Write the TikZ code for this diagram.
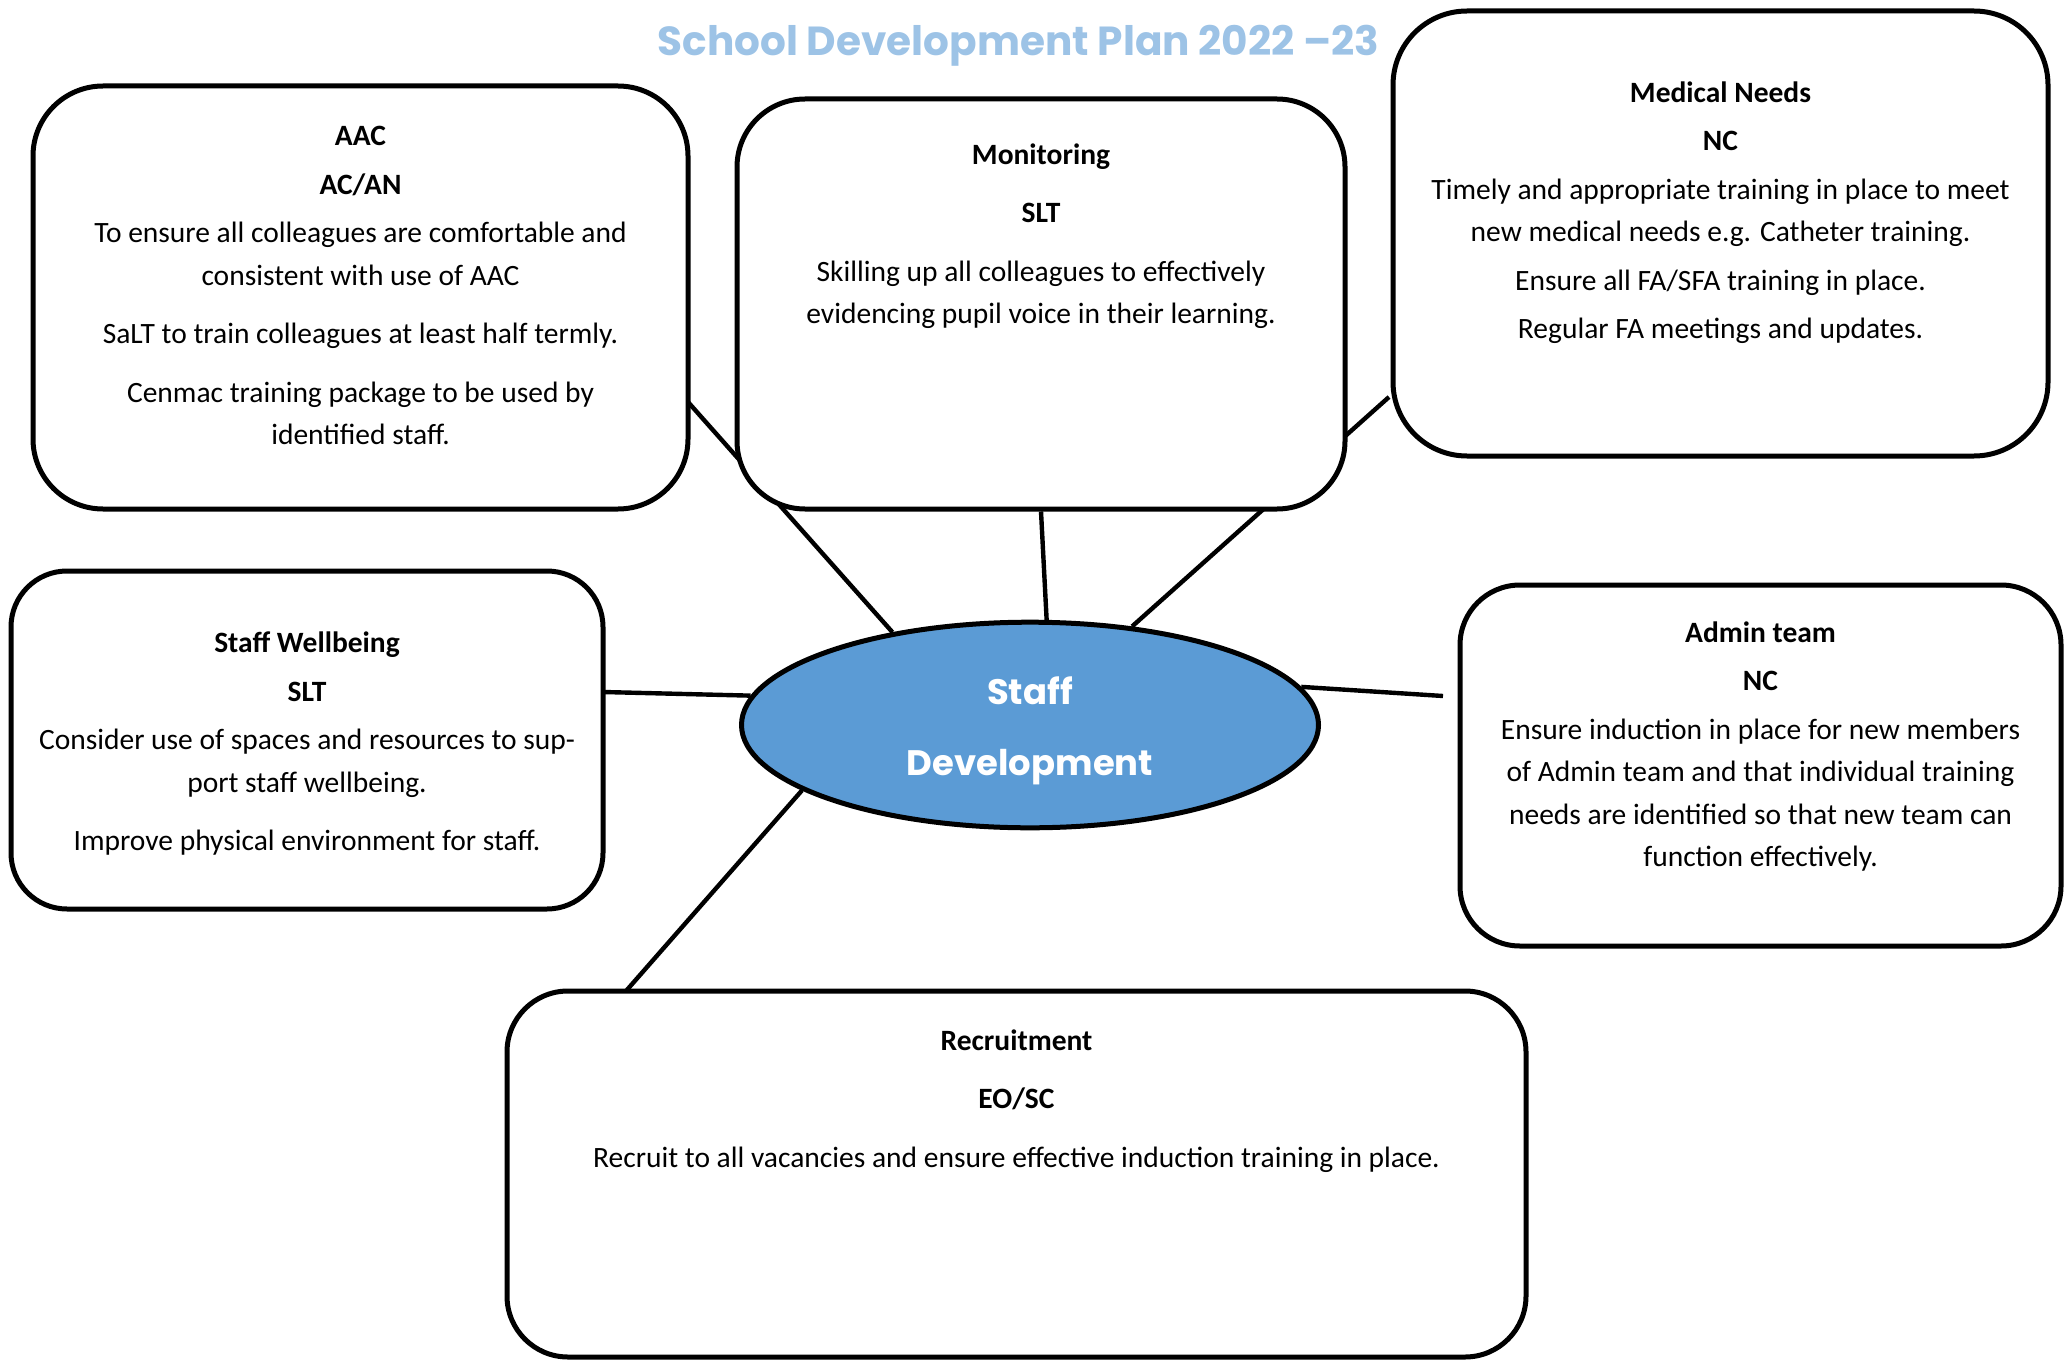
\documentclass[tikz,border=0pt]{standalone}
\usepackage{fontspec}
\setmainfont{Carlito}
\newfontfamily\headfont{Poppins}
\usetikzlibrary{shapes.geometric,backgrounds}
\definecolor{titleblue}{RGB}{157,195,230}
\definecolor{hubblue}{RGB}{91,155,213}

% small and large gaps between lines of a panel
\newcommand\hgap{\\[3pt]}
\newcommand\pgap{\\[8pt]}

\begin{document}
\begin{tikzpicture}[x=0.5pt,y=-0.5pt,
  panel/.style={rectangle, draw=black, line width=2.5pt, fill=white, inner sep=0pt},
  conn/.style={draw=black, line width=2.2pt},
  body/.style={anchor=north, align=center, inner sep=0pt,
    font=\fontsize{14.75}{21.25}\selectfont},
  hub/.style={ellipse, draw=black, line width=2.5pt, fill=hubblue, inner sep=0pt,
    minimum width=288.5pt, minimum height=102.8pt},
  hubtext/.style={anchor=base, text=white, inner sep=0pt,
    font=\headfont\bfseries\fontsize{17.7}{21}\selectfont},
]
\useasboundingbox (0,0) rectangle (2066,1364);

% title
\node[anchor=base, inner sep=0pt, text=titleblue,
  font=\headfont\bfseries\fontsize{20.3}{24}\selectfont] (title) at (1018.5,56)
  {School Development Plan 2022 –23};

% panels
\node[panel, rounded corners=35pt, minimum width=327.5pt, minimum height=211.5pt] (aac) at (360.5,297.5) {};
\node[panel, rounded corners=34pt, minimum width=304pt, minimum height=205pt] (mon) at (1041,304) {};
\node[panel, rounded corners=37pt, minimum width=327.5pt, minimum height=222.5pt] (med) at (1720.5,233.5) {};
\node[panel, rounded corners=28pt, minimum width=296pt, minimum height=169pt] (well) at (307,740) {};
\node[panel, rounded corners=30pt, minimum width=300.5pt, minimum height=180.5pt] (admin) at (1760.5,765.5) {};
\node[panel, rounded corners=30.5pt, minimum width=509.5pt, minimum height=183pt] (recr) at (1016.5,1174) {};

% central ellipse
\node[hub] (hub) at (1030,725) {};
\node[hubtext] (hubA) at (1030,704) {Staff};
\node[hubtext] (hubB) at (1030,775) {Development};

% connector ends on the panels
\coordinate (aacport) at (688,402);
\coordinate (medport) at (1389,397);
\coordinate (wellport) at (603,692);
\coordinate (adminport) at (1443,696);
\coordinate (recrport) at (626,991);

\begin{scope}[on background layer]
  \draw[conn] (hub.146.8) -- (aacport);
  \draw[conn] (hub.81.5) -- (mon.south);
  \draw[conn] (hub.44.4) -- (medport);
  \draw[conn] (hub.174.4) -- (wellport);
  \draw[conn] (hub.8.7) -- (adminport);
  \draw[conn] (hub.196) -- (recrport);
\end{scope}

% panel texts
\node[body] (aactext) at (360.5,115.5) {\strut\textbf{AAC}\hgap
  \textbf{AC/AN}\hgap
  To ensure all colleagues are comfortable and\\
  consistent with use of AAC\pgap
  SaLT to train colleagues at least half termly.\pgap
  Cenmac training package to be used by\\
  identified staff.};

\node[body] (montext) at (1041,134) {\strut\textbf{Monitoring}\pgap
  \textbf{SLT}\pgap
  Skilling up all colleagues to effectively\\
  evidencing pupil voice in their learning.};

\node[body] (medtext) at (1720.5,72) {\strut\textbf{Medical Needs}\hgap
  \textbf{NC}\hgap
  Timely and appropriate training in place to meet\\
  new medical needs e.g. Catheter training.\hgap
  Ensure all FA/SFA training in place.\hgap
  Regular FA meetings and updates.};

\node[body] (welltext) at (307,622.5) {\strut\textbf{Staff Wellbeing}\hgap
  \textbf{SLT}\hgap
  Consider use of spaces and resources to sup-\\
  port staff wellbeing.\pgap
  Improve physical environment for staff.};

\node[body] (admintext) at (1760.5,612) {\strut\textbf{Admin team}\hgap
  \textbf{NC}\hgap
  Ensure induction in place for new members\\
  of Admin team and that individual training\\
  needs are identified so that new team can\\
  function effectively.};

\node[body] (recrtext) at (1016.5,1020) {\strut\textbf{Recruitment}\pgap
  \textbf{EO/SC}\pgap
  Recruit to all vacancies and ensure effective induction training in place.};
\end{tikzpicture}
\end{document}
